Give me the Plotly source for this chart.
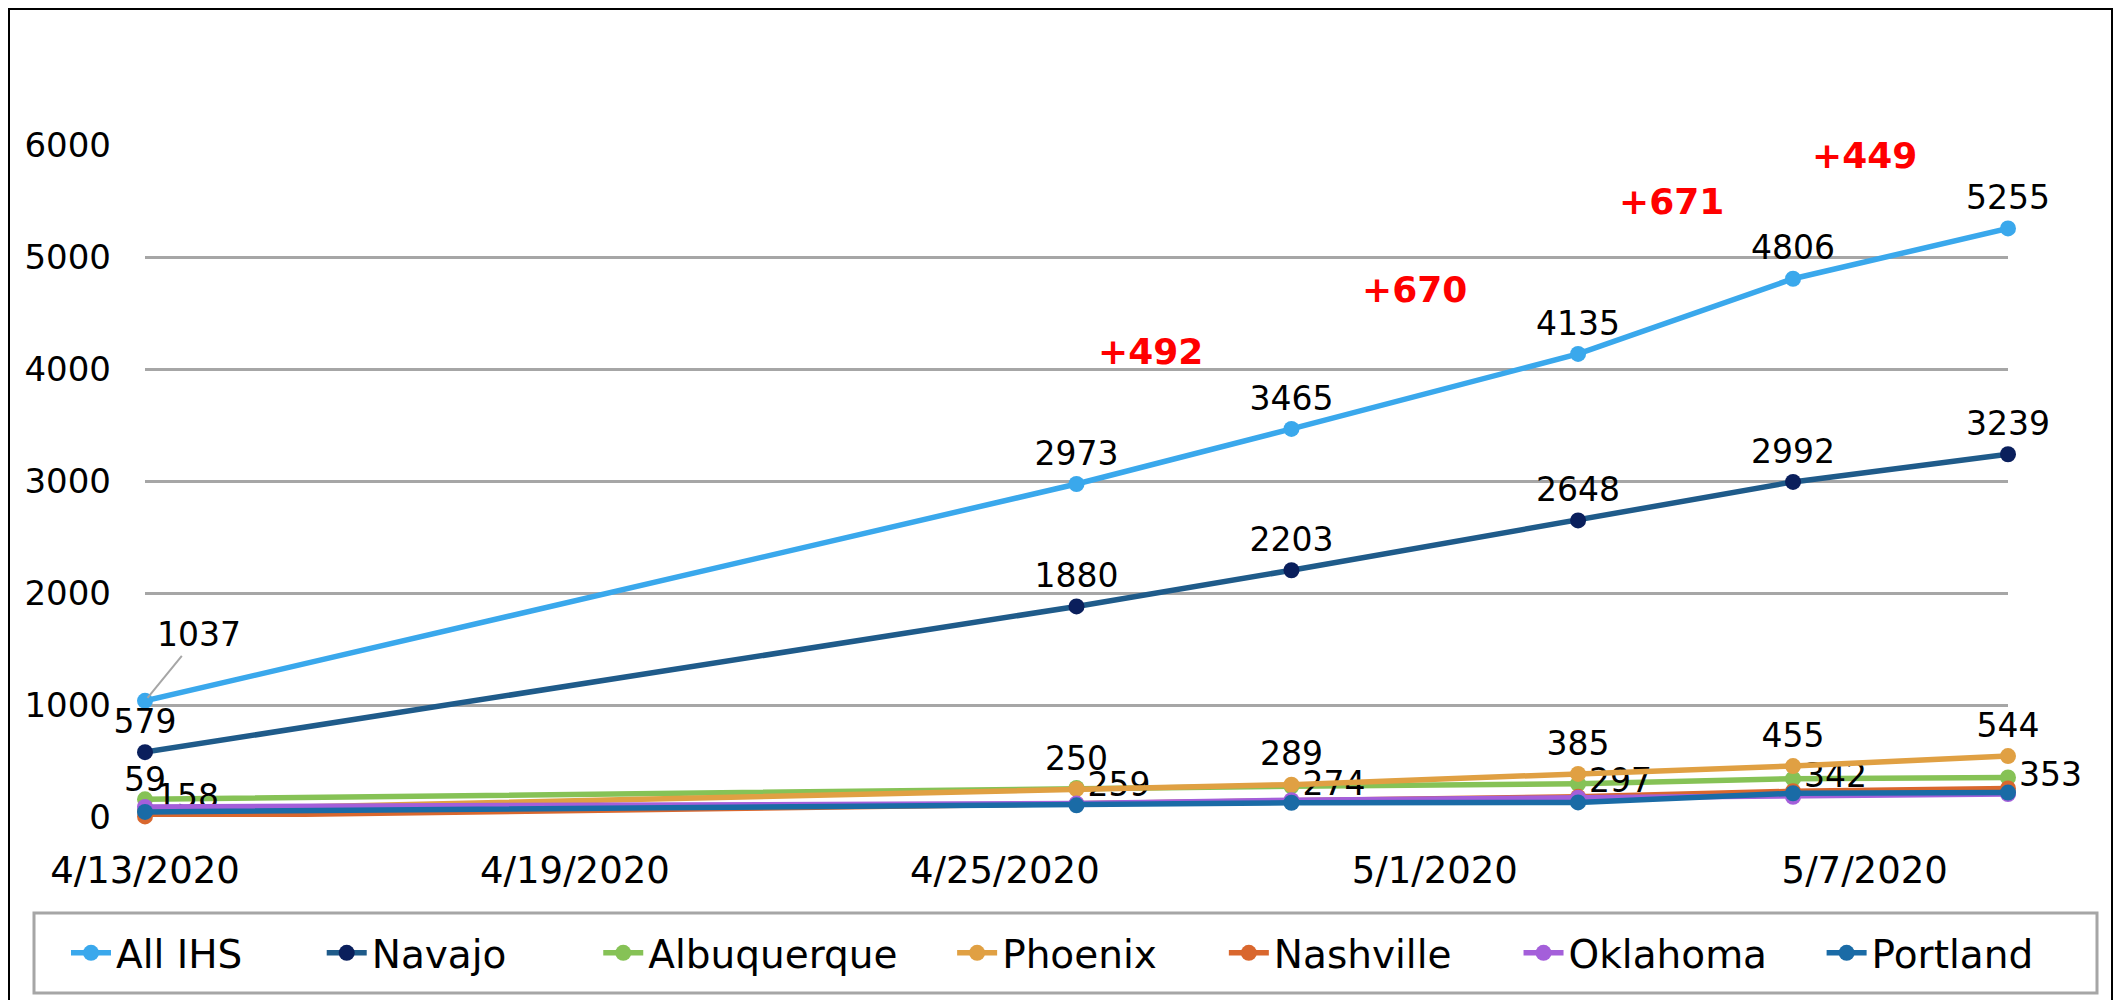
import plotly.graph_objects as go
import pandas as pd

# ---------------- data ----------------
dates = ["2020-04-13", "2020-04-26", "2020-04-29", "2020-05-03", "2020-05-06", "2020-05-09"]
all_ihs = [1037, 2973, 3465, 4135, 4806, 5255]
navajo = [579, 1880, 2203, 2648, 2992, 3239]
albuquerque = [158, 259, 274, 297, 342, 353]
phoenix = [59, 250, 289, 385, 455, 544]
nashville = [5, 115, 140, 180, 230, 255]
oklahoma = [90, 120, 150, 172, 180, 205]
portland = [45, 104, 127, 130, 212, 218]

tick_dates = ["2020-04-13", "2020-04-19", "2020-04-25", "2020-05-01", "2020-05-07"]
tick_text = ["4/13/2020", "4/19/2020", "4/25/2020", "5/1/2020", "5/7/2020"]
y_ticks = [0, 1000, 2000, 3000, 4000, 5000, 6000]

# ---------------- styling ----------------
# page body has an 8px margin; figure sized so that the page fits 2128x1008
BODY = 8
W, H = 2128 - 2 * BODY, 1008 - 2 * BODY
# plot area in screen pixels
PX0, PX1, PY0, PY1 = 145, 2008, 145, 817
ML, MT = PX0 - BODY, PY0 - BODY
MR, MB = W - (PX1 - BODY), H - (PY1 - BODY)
PW, PH = PX1 - PX0, PY1 - PY0

def px_x(px):
    return (px - PX0) / PW

def px_y(py):
    return (PY1 - py) / PH

LABEL_FONT = dict(family="DejaVu Sans", size=33, color="#000000")

fig = go.Figure()

# legend padding (non-breaking spaces) to spread entries like the original
legend_pad = {"All IHS": 6, "Navajo": 7, "Albuquerque": 4, "Phoenix": 5,
              "Nashville": 5, "Oklahoma": 4, "Portland": 0}

def add_series(name, values, line_color, marker_color, text=None, textpos=None):
    fig.add_trace(go.Scatter(
        x=dates, y=values, name=name + "\u00a0" * legend_pad[name],
        mode="lines+markers+text" if text is not None else "lines+markers",
        line=dict(color=line_color, width=5.5),
        marker=dict(color=marker_color, size=16),
        text=text, textposition=textpos,
        textfont=LABEL_FONT,
        cliponaxis=False,
    ))

ihs_text = [""] + [str(v) for v in all_ihs[1:]]
add_series("All IHS", all_ihs, "#3AA8EC", "#3AA8EC", ihs_text, "top center")
add_series("Navajo", navajo, "#1F5B8A", "#0A1F5C", [str(v) for v in navajo], "top center")
add_series("Albuquerque", albuquerque, "#86C256", "#86C256", [str(v) for v in albuquerque], "middle right")
add_series("Phoenix", phoenix, "#E0A043", "#E0A043", [str(v) for v in phoenix], "top center")
add_series("Nashville", nashville, "#D9672E", "#D9672E")
add_series("Oklahoma", oklahoma, "#A45FDA", "#A45FDA")
add_series("Portland", portland, "#1A6BA6", "#1A6BA6")

annotations = []
# first All IHS label with leader line
annotations.append(dict(
    x=dates[0], y=all_ihs[0], xref="x", yref="y",
    text=str(all_ihs[0]), showarrow=True, arrowhead=0, arrowwidth=2,
    arrowcolor="#A6A6A6", ax=54, ay=-66, font=LABEL_FONT, standoff=4,
))

# red increment labels between consecutive All IHS points (from 4/26 on)
dts = pd.to_datetime(dates)
x_shifts = [-33, -20, -14, -36]
y_shifts = [105, 102, 115, 98]
for j, i in enumerate(range(2, len(all_ihs))):
    mid = dts[i - 1] + (dts[i] - dts[i - 1]) / 2
    annotations.append(dict(
        x=mid, y=(all_ihs[i - 1] + all_ihs[i]) / 2, xref="x", yref="y",
        text="+%d" % (all_ihs[i] - all_ihs[i - 1]), showarrow=False,
        xshift=x_shifts[j], yshift=y_shifts[j],
        font=dict(family="DejaVu Sans", size=36, color="#FF0000", weight="bold"),
    ))

shapes = [
    # legend box
    dict(type="rect", xref="paper", yref="paper",
         x0=px_x(34), x1=px_x(2097), y0=px_y(993), y1=px_y(913),
         line=dict(color="#A6A6A6", width=3), fillcolor="rgba(0,0,0,0)", layer="below"),
    # outer border
    dict(type="line", xref="paper", yref="paper", x0=px_x(9), x1=px_x(9),
         y0=px_y(1010), y1=px_y(BODY), line=dict(color="#000000", width=2)),
    dict(type="line", xref="paper", yref="paper", x0=px_x(9), x1=px_x(2112),
         y0=px_y(BODY + 1), y1=px_y(BODY + 1), line=dict(color="#000000", width=2)),
    dict(type="line", xref="paper", yref="paper", x0=px_x(2112), x1=px_x(2112),
         y0=px_y(1010), y1=px_y(BODY), line=dict(color="#000000", width=2)),
]

fig.update_layout(
    width=W, height=H,
    margin=dict(l=ML, r=MR, t=MT, b=MB, pad=0),
    paper_bgcolor="#FFFFFF", plot_bgcolor="#FFFFFF",
    showlegend=True,
    legend=dict(orientation="h", x=px_x(66), xanchor="left", y=px_y(953), yanchor="middle",
                font=dict(family="DejaVu Sans", size=39, color="#000000"),
                bgcolor="rgba(0,0,0,0)", borderwidth=0, itemwidth=40,
                traceorder="normal"),
    annotations=annotations,
    shapes=shapes,
    xaxis=dict(type="date", range=[dates[0], dates[-1]], tickvals=tick_dates, ticktext=tick_text,
               showgrid=False, zeroline=False, showline=False, ticks="",
               tickfont=dict(family="DejaVu Sans", size=37, color="#000000"),
               ticklabelstandoff=28),
    yaxis=dict(range=[0, 6000], tickvals=y_ticks, showgrid=True, gridcolor="#A6A6A6", gridwidth=3,
               zeroline=False, showline=False, ticks="",
               tickfont=dict(family="DejaVu Sans", size=34, color="#000000"),
               ticklabelstandoff=33),
)

fig.write_html("out.html")
